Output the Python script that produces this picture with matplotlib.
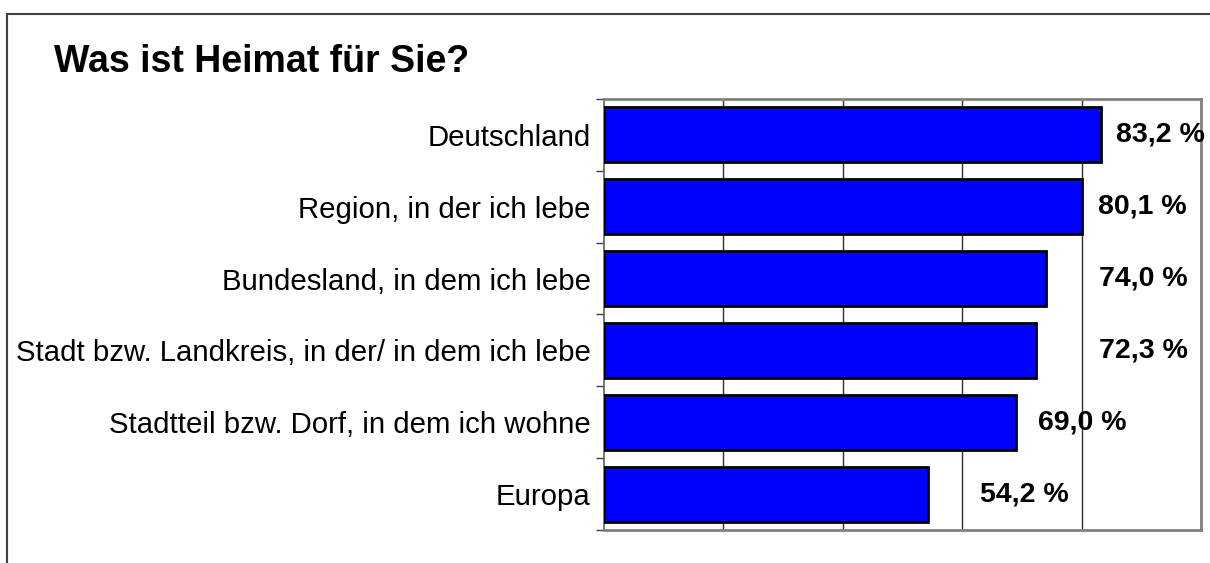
import matplotlib
matplotlib.use("Agg")
import matplotlib.pyplot as plt
from matplotlib.patches import Rectangle

plt.rcParams['font.family'] = ['Liberation Sans', 'DejaVu Sans']

# data, top to bottom
categories = ['Deutschland',
              'Region, in der ich lebe',
              'Bundesland, in dem ich lebe',
              'Stadt bzw. Landkreis, in der/ in dem ich lebe',
              'Stadtteil bzw. Dorf, in dem ich wohne',
              'Europa']
values = [83.2, 80.1, 74.0, 72.3, 69.0, 54.2]
title = 'Was ist Heimat für Sie?'

# where the value labels sit (left edge, in axis units) as in the original
label_x = [85.8, 82.7, 82.9, 82.9, 72.7, 63.0]


def main():
    W, H = 1210, 563
    fig = plt.figure(figsize=(W / 100, H / 100), dpi=100)

    # outer frame, runs off right and bottom
    fig.patches.append(Rectangle((7 / W, -0.1), 1.2, (H - 14) / H + 0.1,
                                 transform=fig.transFigure, fill=False,
                                 edgecolor='#404040', linewidth=1.5))

    fig.text(54 / W, 1 - 72 / H, title, fontsize=27, fontweight='bold',
             va='baseline', ha='left')

    left, right, top, bottom = 604, 1201, 99, 530
    ax = fig.add_axes([left / W, 1 - bottom / H, (right - left) / W, (bottom - top) / H])

    ypos = list(range(len(categories)))
    ax.barh(ypos, values, height=0.766, color='#0000FF', edgecolor='black',
            linewidth=2, zorder=3)

    ax.set_xlim(0, 100)
    ax.set_ylim(len(categories) - 0.5, -0.5)

    for g in [20, 40, 60, 80]:
        ax.axvline(g, color='#303030', linewidth=1, zorder=1)

    ax.set_xticks([])
    ax.set_yticks(ypos)
    ax.set_yticklabels(categories, fontsize=21.2)
    ax.tick_params(axis='y', which='major', length=0, pad=9.5)
    ax.set_yticks([i - 0.5 for i in range(len(categories) + 1)], minor=True)
    ax.tick_params(axis='y', which='minor', length=6, width=1, color='#404040')

    for s in ['top', 'right', 'bottom']:
        ax.spines[s].set_color('#808080')
        ax.spines[s].set_linewidth(2)
    ax.spines['left'].set_color('#606060')
    ax.spines['left'].set_linewidth(1.2)

    for i, v in enumerate(values):
        txt = ('%.1f' % v).replace('.', ',') + ' %'
        ax.text(label_x[i], i, txt, fontsize=20.5, fontweight='bold',
                va='center', ha='left', zorder=4, clip_on=False)

    fig.savefig('out.png', dpi=100)


if __name__ == '__main__':
    main()
